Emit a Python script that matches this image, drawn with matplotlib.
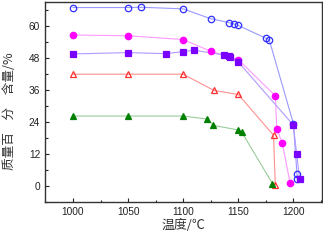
import matplotlib
matplotlib.use("Agg")
import matplotlib.pyplot as plt
from matplotlib.ticker import MultipleLocator

# Data
blue_x = [1000, 1050, 1062, 1100, 1125, 1142, 1146.5, 1150, 1175, 1178, 1200, 1203.3, 1203.6]
blue_y = [66.9, 66.9, 67.0, 66.4, 62.7, 61.2, 60.7, 60.2, 55.4, 54.9, 23.4, 4.4, 2.5]

mag_x = [1000, 1050, 1100, 1125, 1150, 1183.6, 1185, 1190, 1197]
mag_y = [56.6, 56.3, 54.9, 50.5, 47.4, 33.8, 21.3, 16.0, 1.1]

pur_x = [1000, 1050, 1084.4, 1100, 1110, 1137, 1141.6, 1142.5, 1150, 1200, 1203, 1205.7]
pur_y = [49.5, 50.0, 49.6, 50.4, 50.9, 49.1, 48.6, 48.4, 46.5, 22.8, 11.9, 2.6]

red_x = [1000, 1050, 1100, 1128, 1150, 1182, 1183.6]
red_y = [41.9, 41.9, 41.9, 35.8, 34.3, 19.0, 0.2]

grn_x = [1000, 1050, 1100, 1122, 1127.4, 1150, 1153, 1181]
grn_y = [26.2, 26.2, 26.2, 25.1, 22.7, 21.0, 20.3, 0.9]

x_ticks = [1000, 1050, 1100, 1150, 1200]
y_ticks = [0, 12, 24, 36, 48, 60]

plt.rcParams['font.family'] = ['Liberation Sans', 'DejaVu Sans']

fig = plt.figure(figsize=(3.23, 2.41), dpi=100)
ax = fig.add_axes([0.139, 0.162, 0.858, 0.830])

ms = 4.6
lw = 0.8
series = [
    (blue_x, blue_y, '#9999ff', 'o', 'none', '#3030ff'),
    (mag_x, mag_y, '#ff99ff', 'o', '#ff00ff', '#ff00ff'),
    (pur_x, pur_y, '#b399ff', 's', '#7a00ff', '#7a00ff'),
    (red_x, red_y, '#ff9090', '^', 'none', '#ff3030'),
    (grn_x, grn_y, '#99cc99', '^', '#008000', '#008000'),
]
for xs, ys, lc, mk, fc, ec in series:
    ax.plot(xs, ys, '-', color=lc, lw=lw, zorder=2)
    ax.plot(xs, ys, linestyle='none', marker=mk, markersize=ms,
            markerfacecolor=fc, markeredgecolor=ec, markeredgewidth=0.9, zorder=3)

ax.set_xlim(974.5, 1226)
ax.set_ylim(-6, 69)
ax.set_xticks(x_ticks)
ax.set_yticks(y_ticks)
ax.xaxis.set_minor_locator(MultipleLocator(25))
ax.yaxis.set_minor_locator(MultipleLocator(6))
ax.tick_params(which='both', direction='in', top=False, right=False, labelsize=7.3, colors='#222222')
ax.tick_params(which='major', length=3, width=0.8)
ax.tick_params(which='minor', length=1.8, width=0.8)
for s in ax.spines.values():
    s.set_linewidth(1.0)
    s.set_color('#333333')

cjk = ['Noto Sans CJK SC', 'DejaVu Sans']
ax.set_xlabel('温度/℃', fontsize=9.3, family=cjk, labelpad=1.5, color='#333333')
ax.set_ylabel('质量百\u3000分\u3000含量/%', fontsize=9.1, family=cjk, color='#333333', va='center')
ax.yaxis.set_label_coords(-0.126, 0.455)

fig.savefig('out.png', dpi=100)
